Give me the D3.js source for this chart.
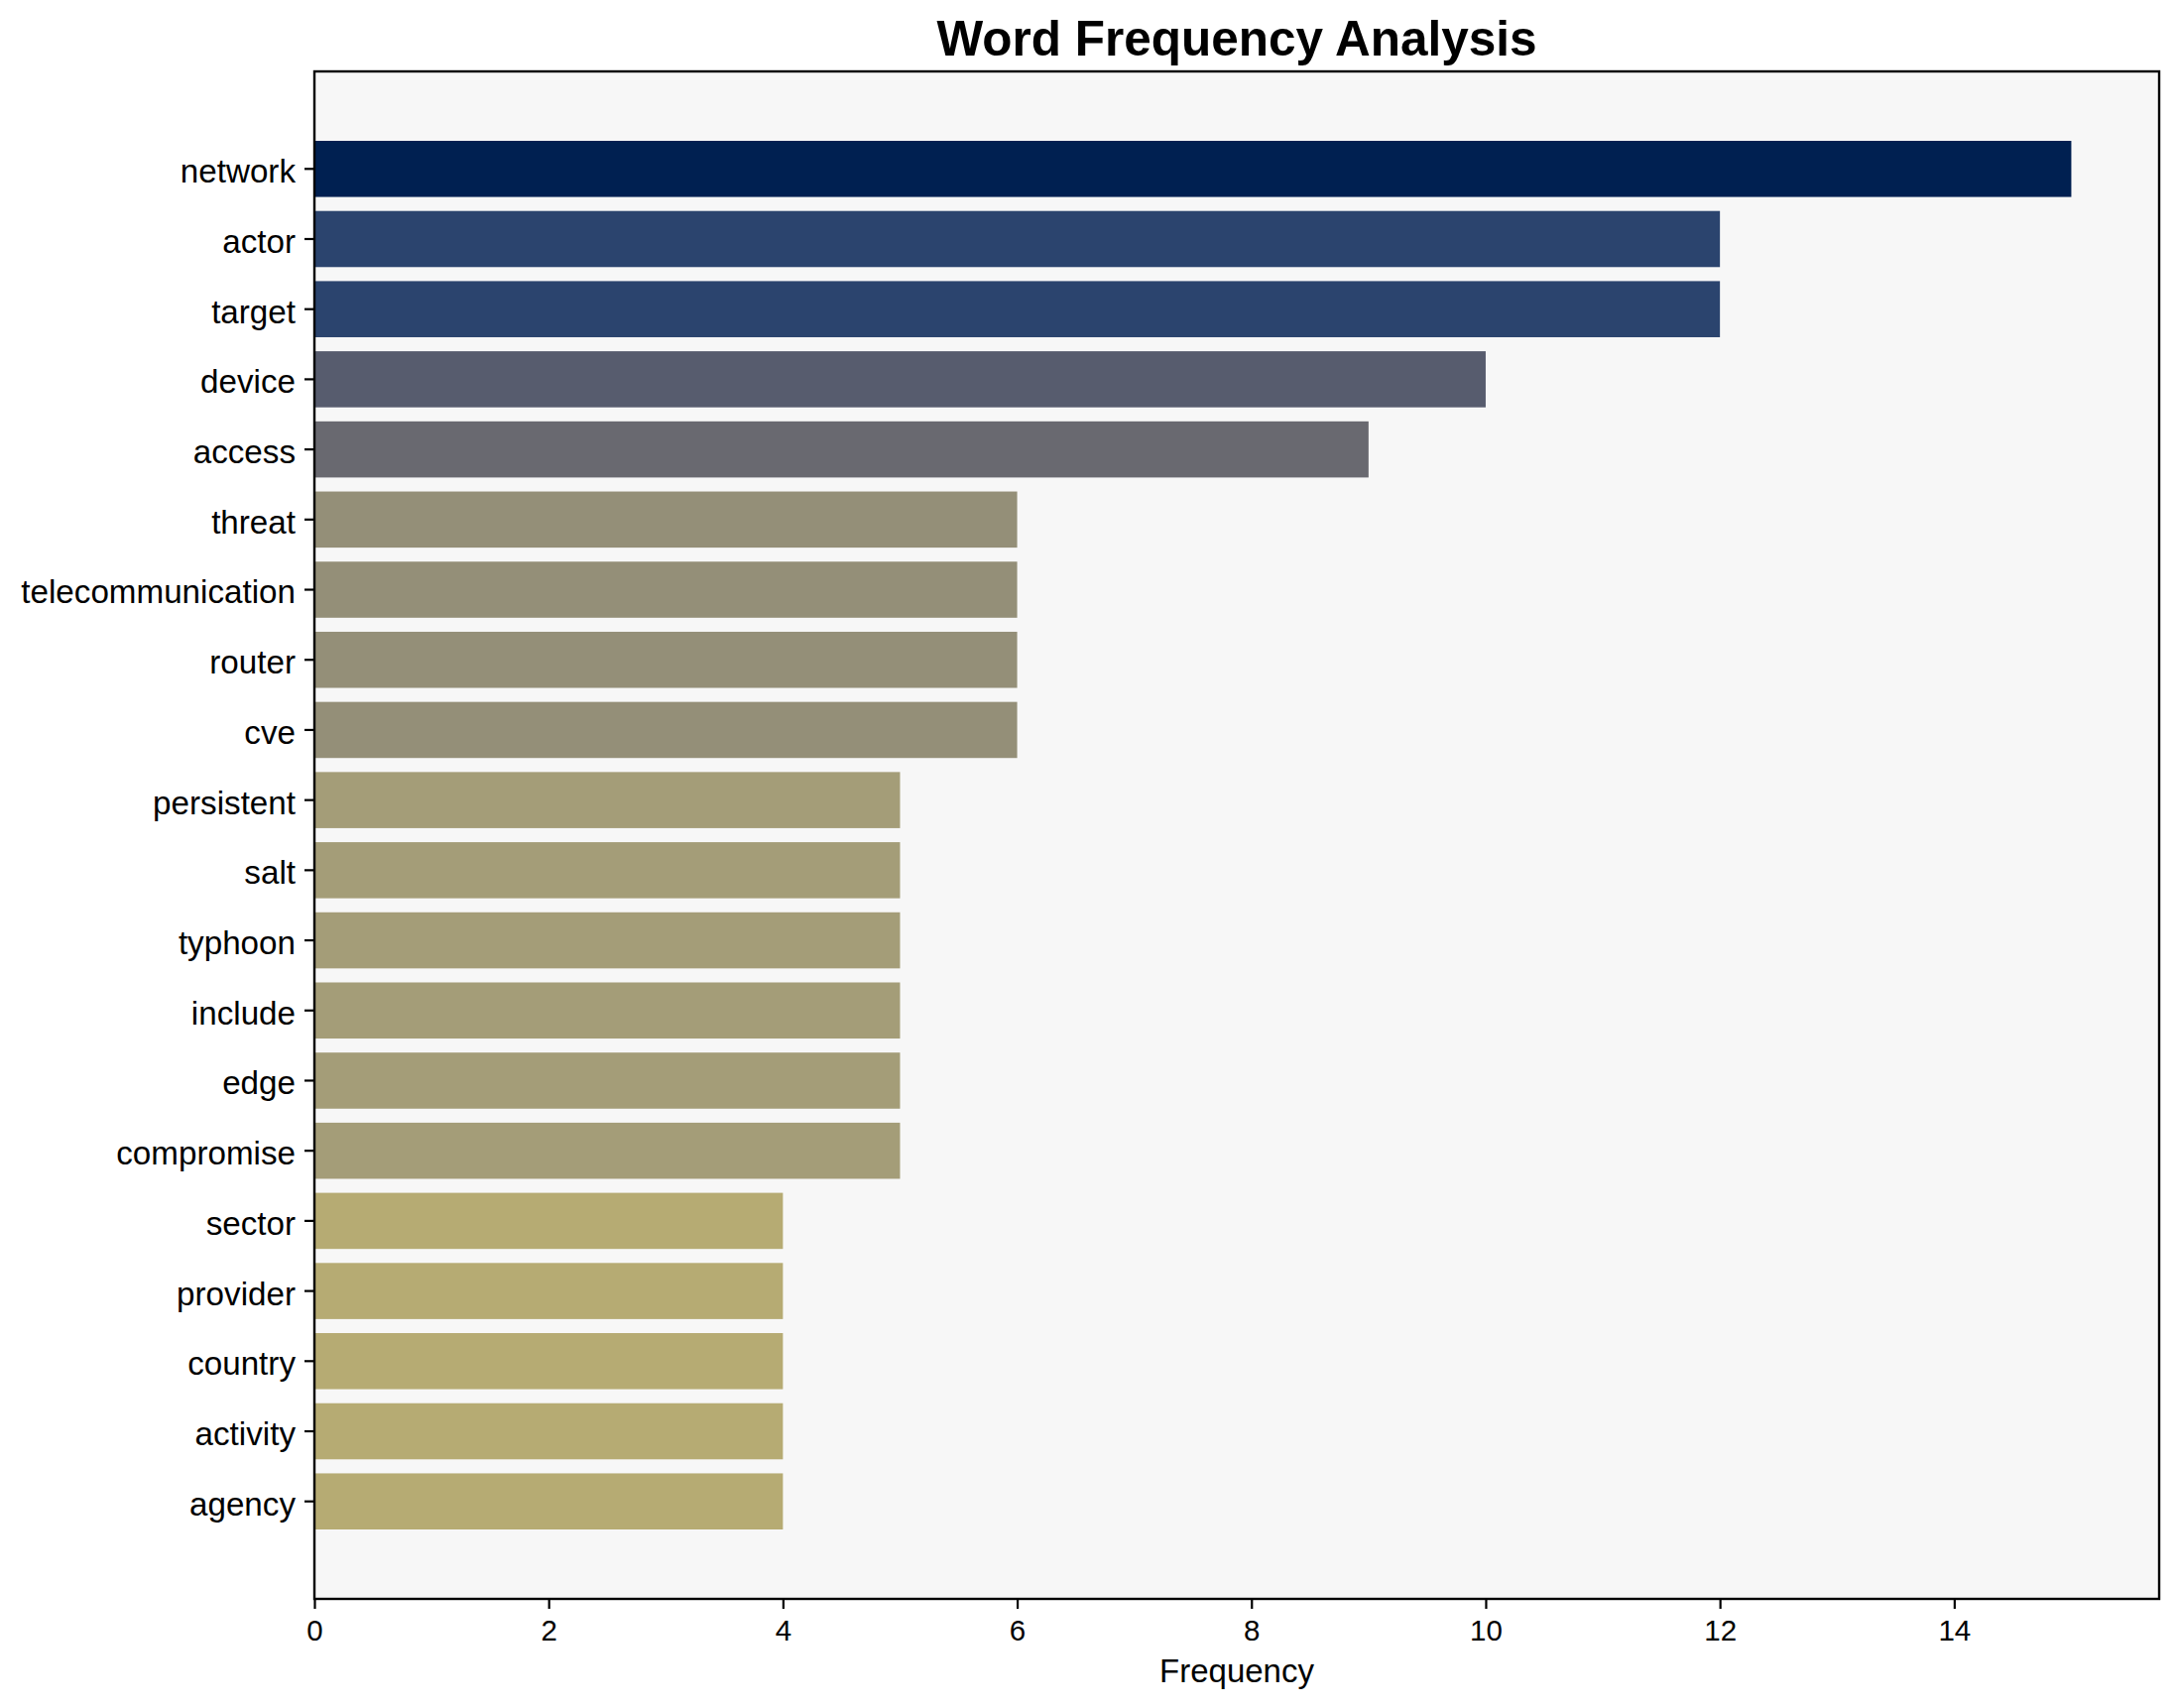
<!DOCTYPE html>
<html>
<head>
<meta charset="utf-8">
<script src="https://cdn.jsdelivr.net/npm/d3@7"></script>
<style>
  html, body { margin: 0; padding: 0; background: #ffffff; }
  svg { display: block; }
</style>
</head>
<body>
<svg id="chart" width="2197" height="1722"></svg>
<script>
const words = ["network", "actor", "target", "device", "access", "threat", "telecommunication", "router", "cve", "persistent", "salt", "typhoon", "include", "edge", "compromise", "sector", "provider", "country", "activity", "agency"];
const counts = [15, 12, 12, 10, 9, 6, 6, 6, 6, 5, 5, 5, 5, 5, 5, 4, 4, 4, 4, 4];
const xTicks = [0, 2, 4, 6, 8, 10, 12, 14];
const titleText = "Word Frequency Analysis";
const xLabelText = "Frequency";

const W = 2197, H = 1722;
const m = { left: 317, right: 2177, top: 72, bottom: 1612 };
const font = "Arial, 'Liberation Sans', Helvetica, sans-serif";

const svg = d3.select("#chart");
const maxV = d3.max(counts);

const x = d3.scaleLinear().domain([0, maxV * 1.05]).range([m.left, m.right]);
const y = d3.scaleBand().domain(words).range([m.top, m.bottom]).paddingInner(0.2).paddingOuter(0.99);
const color = v => d3.interpolateCividis(1 - v / maxV);

// axes background
svg.append("rect")
  .attr("x", m.left).attr("y", m.top)
  .attr("width", m.right - m.left).attr("height", m.bottom - m.top)
  .attr("fill", "#f7f7f7");

// bars
svg.append("g").selectAll("rect")
  .data(words.map((w, i) => ({ w, v: counts[i] })))
  .join("rect")
  .attr("x", x(0))
  .attr("y", d => y(d.w))
  .attr("width", d => x(d.v) - x(0))
  .attr("height", y.bandwidth())
  .attr("fill", d => color(d.v));

// x axis
const xAxis = d3.axisBottom(x).tickValues(xTicks).tickFormat(d3.format("d")).tickSizeOuter(0).tickSize(10).tickPadding(11);
const gx = svg.append("g").attr("transform", `translate(0,${m.bottom})`).call(xAxis);
gx.select(".domain").remove();
gx.selectAll(".tick line").attr("stroke", "#000").attr("stroke-width", 2.2);
gx.selectAll(".tick text").attr("font-family", font).attr("font-size", 29.5).attr("fill", "#000");

// y axis
const yAxis = d3.axisLeft(y).tickSizeOuter(0).tickSize(10).tickPadding(9);
const gy = svg.append("g").attr("transform", `translate(${m.left},0)`).call(yAxis);
gy.select(".domain").remove();
gy.selectAll(".tick line").attr("stroke", "#000").attr("stroke-width", 2.2);
gy.selectAll(".tick text").attr("font-family", font).attr("font-size", 33.2).attr("fill", "#000").attr("dy", "0.42em");

// frame
svg.append("rect")
  .attr("x", m.left).attr("y", m.top)
  .attr("width", m.right - m.left).attr("height", m.bottom - m.top)
  .attr("fill", "none").attr("stroke", "#000").attr("stroke-width", 2.4);

// title
svg.append("text")
  .attr("x", (m.left + m.right) / 2).attr("y", 56)
  .attr("text-anchor", "middle")
  .attr("font-family", font).attr("font-weight", "bold").attr("font-size", 49.5)
  .attr("fill", "#000")
  .text(titleText);

// x label
svg.append("text")
  .attr("x", (m.left + m.right) / 2).attr("y", 1696)
  .attr("text-anchor", "middle")
  .attr("font-family", font).attr("font-size", 33)
  .attr("fill", "#000")
  .text(xLabelText);
</script>
</body>
</html>
